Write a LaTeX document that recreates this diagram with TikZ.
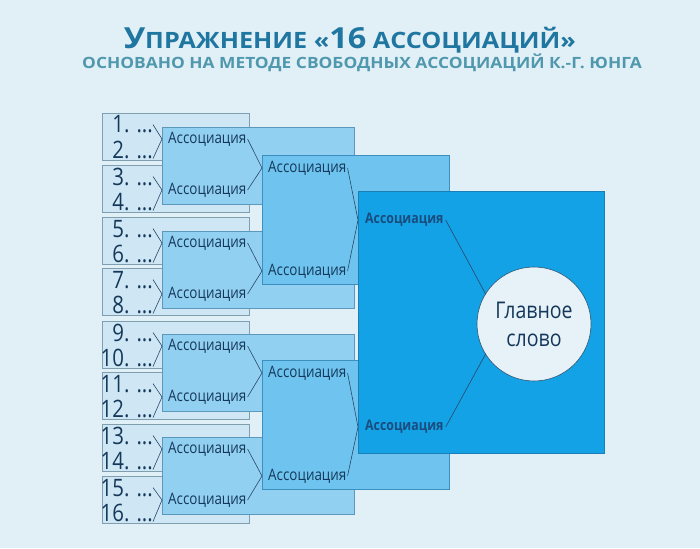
\documentclass[tikz,border=0pt]{standalone}
\usepackage{fontspec}
\setmainfont{Open Sans}
\newfontfamily\condf{Open Sans}[FakeStretch=0.85]
\newfontfamily\titlef{Open Sans}[FakeStretch=1.12]
\newfontfamily\subf{Open Sans}[FakeStretch=1.12]
\definecolor{bg}{HTML}{E1EFF6}
\definecolor{cAf}{HTML}{CFE7F4}
\definecolor{cAb}{HTML}{7F9FB0}
\definecolor{cBf}{HTML}{92D0F1}
\definecolor{cBb}{HTML}{5B98BB}
\definecolor{cCf}{HTML}{6EC4EF}
\definecolor{cCb}{HTML}{3D8FBF}
\definecolor{cDf}{HTML}{13A2E6}
\definecolor{cDb}{HTML}{1B7FB5}
\definecolor{circf}{HTML}{E6F2F8}
\definecolor{circb}{HTML}{2B5573}
\definecolor{txt}{HTML}{15385A}
\definecolor{txtD}{HTML}{1A4C7E}
\definecolor{lnk}{HTML}{28476A}
\definecolor{ttl}{HTML}{1F76A0}
\definecolor{sub}{HTML}{4F98AD}
\begin{document}
\begin{tikzpicture}[x=1pt,y=-1pt,
  box/.style={anchor=north west, inner sep=0pt, line width=0.6pt},
  numbox/.style={box, draw=cAb, fill=cAf, minimum width=147pt, minimum height=47pt},
  boxB/.style={box, draw=cBb, fill=cBf, minimum width=192pt, minimum height=77pt},
  boxC/.style={box, draw=cCb, fill=cCf, minimum width=187pt, minimum height=129pt},
  boxD/.style={box, draw=cDb, fill=cDf, minimum width=246pt, minimum height=262pt},
  num/.style={inner sep=0pt, anchor=base east, text=txt, font=\condf\fontsize{24}{24}\selectfont},
  assoc/.style={inner sep=0pt, anchor=west, text=txt, font=\condf\fontsize{15.8}{16}\selectfont},
  assocD/.style={inner sep=0pt, anchor=west, text=txtD, font=\condf\bfseries\fontsize{14.5}{16}\selectfont},
  link/.style={draw=lnk, line width=0.6pt},
  mainword/.style={circle, draw=circb, fill=circf, line width=0.6pt, minimum size=114pt, inner sep=0pt, align=center, text=txt, font=\condf\fontsize{23}{28}\selectfont}
]
\fill[bg] (0,0) rectangle (700,548);
\useasboundingbox (0,0) rectangle (700,548);
% title
\node[anchor=base, inner sep=0pt, text=ttl, font=\titlef\bfseries\fontsize{22.5}{24}\selectfont] (title) at (350,49)
  {{\fontsize{29}{30}\selectfont У}ПРАЖНЕНИЕ «{\fontsize{29}{30}\selectfont 16} АССОЦИАЦИЙ»};
\node[anchor=base, inner sep=0pt, text=sub, font=\subf\bfseries\fontsize{15.5}{16}\selectfont] (subtitle) at (362,69)
  {ОСНОВАНО НА МЕТОДЕ СВОБОДНЫХ АССОЦИАЦИЙ К.-Г. ЮНГА};
% column 1
\foreach \t [count=\i] in {113,165,217,268,321,372,424,476} {
  \pgfmathtruncatemacro{\a}{2*\i-1}
  \pgfmathtruncatemacro{\b}{2*\i}
  \node[numbox] (c\i) at (102,\t) {};
  \node[num] (n\a) at (153,\t+20) {\a. ...};
  \node[num] (n\b) at (153,\t+45) {\b. ...};
}
% column 2
\foreach \t [count=\i] in {127,231,334,437} {
  \pgfmathtruncatemacro{\a}{2*\i-1}
  \pgfmathtruncatemacro{\b}{2*\i}
  \node[boxB] (b\i) at (162,\t) {};
  \node[assoc] (a\a) at (168,\t+12) {Ассоциация};
  \node[assoc] (a\b) at (168,\t+63) {Ассоциация};
}
\foreach \i in {1,...,8} {
  \pgfmathtruncatemacro{\a}{2*\i-1}
  \pgfmathtruncatemacro{\b}{2*\i}
  \pgfmathtruncatemacro{\k}{int((\i+1)/2)}
  \coordinate (p\i) at (b\k.west |- a\i);
  \draw[link] (n\a.east) -- (p\i) -- (n\b.south east);
}
% column 3
\foreach \t [count=\i] in {155,360} {
  \pgfmathtruncatemacro{\a}{2*\i-1}
  \pgfmathtruncatemacro{\b}{2*\i}
  \node[boxC] (d\i) at (262,\t) {};
  \node[assoc] (e\a) at (268,\t+13) {Ассоциация};
  \node[assoc] (e\b) at (268,\t+116) {Ассоциация};
}
\foreach \i in {1,...,4} {
  \pgfmathtruncatemacro{\a}{2*\i-1}
  \pgfmathtruncatemacro{\b}{2*\i}
  \pgfmathtruncatemacro{\k}{int((\i+1)/2)}
  \coordinate (q\i) at (d\k.west |- e\i);
  \draw[link] ([xshift=1pt]a\a.east) -- (q\i) -- ([xshift=1pt]a\b.east);
}
% column 4
\node[boxD] (big) at (358,191) {};
\node[assocD] (f1) at (365,220) {Ассоциация};
\node[assocD] (f2) at (365,427) {Ассоциация};
\foreach \i in {1,2} {
  \pgfmathtruncatemacro{\a}{2*\i-1}
  \pgfmathtruncatemacro{\b}{2*\i}
  \coordinate (r\i) at (big.west |- f\i);
  \draw[link] ([xshift=1pt]e\a.east) -- (r\i) -- ([xshift=1pt]e\b.east);
}
\node[mainword] (main) at (534,324) {Главное\\слово};
\draw[link] ([xshift=2pt]f1.east) -- (main.148);
\draw[link] ([xshift=2pt]f2.east) -- (main.212);
\end{tikzpicture}
\end{document}
